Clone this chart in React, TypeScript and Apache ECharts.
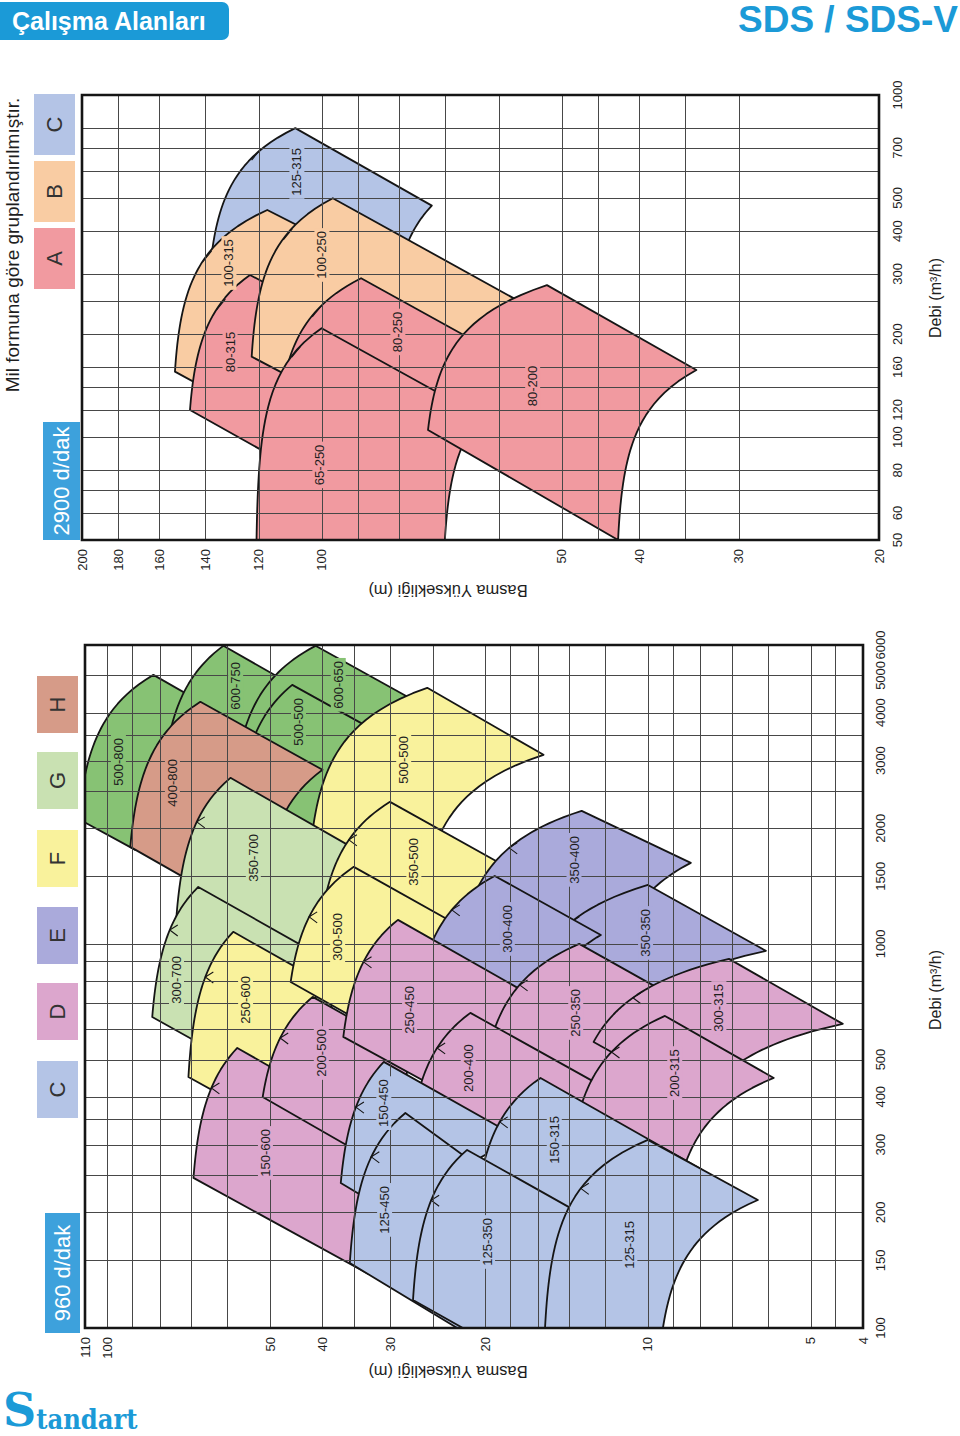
import React, { useEffect, useRef } from 'react';
import * as echarts from 'echarts';

type Pt = [number, number]; // [flow Q (m3/h), head H (m)]

// ---------------- 960 d/dak (draw order: bottom -> top) ----------------
const models960 = ['500-800', '600-750', '600-650', '500-500', '500-500', '400-800', '350-700', '300-700', '350-500', '250-600', '300-500', '150-600', '200-500', '350-400', '350-350', '300-400', '250-450', '250-350', '300-315', '200-400', '200-315', '150-450', '150-315', '125-450', '125-350', '125-315'];
const groups960 = ['K', 'K', 'K', 'K', 'F', 'H', 'G', 'G', 'F', 'F', 'F', 'D', 'D', 'E', 'E', 'E', 'D', 'D', 'D', 'D', 'D', 'C', 'C', 'C', 'C', 'C'];
// corner A: min flow / max impeller, B: max flow / max impeller, C: max flow / min impeller, D: min flow / min impeller
const cornerA960: Pt[] = [[2114, 113], [3015, 78.2], [3297, 56.7], [2518, 56.7], [1757, 42.1], [1789, 90.7], [1055, 74.9], [645.5, 82.6], [1212, 40], [450.4, 70.8], [796.2, 45.8], [245.9, 69.3], [399.6, 51.6], [1264, 21.3], [700, 17], [994, 25.2], [572.6, 36.6], [590, 19.3], [555.6, 12.6], [416.8, 26.5], [350, 13.5], [238.5, 37], [200, 20.8], [147.6, 35.6], [118.3, 27.2], [100, 15.5]];
const cornerB960: Pt[] = [[5016, 82.2], [5970, 61], [5970, 41.2], [4725, 45.5], [4642, 25.6], [4268, 67.3], [2706, 59.2], [1407, 67.9], [2343, 30], [1075, 58.5], [1587, 35], [536, 57.5], [727.8, 41.7], [2220, 13.26], [1424, 10], [1503, 19.2], [1155, 29], [1000, 13.4], [914, 7.08], [661.2, 21.3], [649.4, 9.3], [492.9, 30.8], [447.8, 15.8], [362.9, 28.1], [290.8, 21.6], [308.8, 10]];
const cornerC960: Pt[] = [[3718, 56.7], [4586, 43.9], [4069, 25.2], [3297, 28.7], [3106, 15.6], [2839, 40], [1675, 32.6], [897.9, 38.6], [1616, 18.7], [786.9, 39.5], [1108, 22.2], [327.9, 31.2], [523.2, 27.5], [1625, 8.33], [959, 6.05], [1055, 12.22], [710.6, 15.8], [710.6, 8.69], [619, 4.36], [406.9, 11.47], [447.8, 5.85], [310.5, 17.2], [259.4, 7.98], [261, 20.4], [194.7, 13], [215.4, 6.26]];
const cornerD960: Pt[] = [[1757, 88.8], [2414, 59.2], [2357, 37], [1866, 38.6], [1212, 26.3], [1148, 52.1], [626.6, 38.6], [464.2, 54.3], [965, 22.2], [326.1, 46.8], [549, 28.7], [138.3, 32.9], [248.8, 28.7], [1000, 11.3], [387.7, 12.22], [685.5, 15.8], [390, 22.2], [411.7, 12.22], [387.7, 7.98], [296, 17.2], [245.9, 8.69], [178.9, 26.3], [130.2, 12.22], [95.3, 21.3], [71.9, 14.5], [100, 9.38]];
const labelAt960: Pt[] = [[2978, 95.4], [4698, 57.9], [4726, 37.4], [3786, 44.3], [3015, 28.3], [2626, 75.8], [1675, 53.7], [806, 74.5], [1635, 27.1], [714.9, 55.5], [1043, 37.5], [285.6, 51], [520, 40.2], [1655, 13.7], [1068, 10.1], [1094, 18.2], [673, 27.6], [661, 13.6], [681, 7.39], [475, 21.5], [461, 8.92], [385, 30.8], [308.8, 14.9], [203, 30.7], [167.5, 19.8], [164.5, 10.8]];
const tickFlow960: (number | null)[] = [null, null, null, null, null, null, 2078, 1087, 1866, 820, 1176, 421.7, 569, 1778, 1141, 1226, 898, 782, 724, 536, 523, 376, 344, 279, 215, 231];

const headGrid960 = [4.5, 5, 6, 7, 8, 9, 10, 12, 14, 16, 18, 20, 25, 30, 35, 40, 50, 60, 70, 80, 90, 100];
const flowGrid960 = [150, 200, 250, 300, 350, 400, 500, 600, 700, 800, 900, 1000, 1500, 2000, 2500, 3000, 3500, 4000, 5000];
const headTicks960 = [4, 5, 10, 20, 30, 40, 50, 100, 110];
const flowTicks960 = [100, 150, 200, 300, 400, 500, 1000, 1500, 2000, 3000, 4000, 5000, 6000];

// ---------------- 2900 d/dak ----------------
const models2900 = ['125-315', '100-315', '80-315', '100-250', '80-250', '65-250', '80-200'];
const groups2900 = ['C', 'B', 'A', 'B', 'A', 'A', 'A'];
const cornerA2900: Pt[] = [[308, 138.2], [155.3, 152.9], [120, 146.4], [171.8, 122.5], [137.3, 112.2], [50, 120.8], [104.9, 73.6]];
const cornerB2900: Pt[] = [[800, 108], [461.2, 117.1], [297.8, 123.1], [499, 96.9], [291.2, 89.3], [208, 100.1], [278, 52.2]];
const cornerC2900: Pt[] = [[474.8, 72.8], [372, 97.7], [248.3, 106.5], [230.5, 53.2], [173.8, 59.8], [115.2, 63.3], [157, 33.9]];
const cornerD2900: Pt[] = [[250, 81.3], [113.7, 119.6], [80.6, 108], [101.4, 79.8], [88.6, 79.8], [50, 70.1], [50, 42.5]];
const labelAt2900: Pt[] = [[595.6, 107.5], [322.7, 130.8], [177.3, 130.4], [340.7, 100], [202.9, 80.3], [82.9, 100.6], [141, 54.4]];
const tickFlow2900: (number | null)[] = [667, 336, 243, 390, 232, 177, null];

const headGrid2900 = [30, 35, 40, 45, 50, 60, 70, 80, 90, 100, 120, 140, 160, 180];
const flowGrid2900 = [60, 70, 80, 100, 120, 140, 160, 200, 250, 300, 400, 500, 600, 700, 800];
const headTicks2900 = [20, 30, 40, 50, 100, 120, 140, 160, 180, 200];
const flowTicks2900 = [50, 60, 80, 100, 120, 160, 200, 300, 400, 500, 700, 1000];

const legend960 = ['H', 'G', 'F', 'E', 'D', 'C'];
const legend2900 = ['C', 'B', 'A'];

// ---------------- styles ----------------
const BLUE = '#1b9ad7';
const OUTLINE = '#151515';
const GRID_COLOR = '#474747';
const TEXT = '#1e1e1e';
const FONT = '"Liberation Sans", Arial, Helvetica, sans-serif';
const groupColors: Record<string, string> = {
  A: '#f19aa0',
  B: '#f9cca3',
  C: '#b4c4e6',
  D: '#dca6cd',
  E: '#aaaadb',
  F: '#f9f29c',
  G: '#c9e1b2',
  H: '#d69b88',
  K: '#87c274',
};

function qhCurve(api: any, p0: Pt, p1: Pt, steps = 30) {
  const [q0, h0] = p0;
  const [q1, h1] = p1;
  const b = (h0 - h1) / (Math.pow(q1, 3) - Math.pow(q0, 3));
  const a = h0 + b * Math.pow(q0, 3);
  const l0 = Math.log10(q0);
  const l1 = Math.log10(q1);
  const pts: number[][] = [];
  for (let i = 0; i <= steps; i++) {
    const q = Math.pow(10, l0 + ((l1 - l0) * i) / steps);
    pts.push(api.coord([a - b * Math.pow(q, 3), q]));
  }
  return { pts, a, b };
}

interface ChartCfg {
  axis: number;
  hMin: number; hMax: number; qMin: number; qMax: number;
  headGrid: number[]; flowGrid: number[]; headTicks: number[]; flowTicks: number[];
  names: string[]; groups: string[]; A: Pt[]; B: Pt[]; C: Pt[]; D: Pt[]; labels: Pt[]; ticks: (number | null)[];
  tickKind: 'chevron' | 'slash';
  headGap: number; flowGap: number; flowFont: number;
}

function chartSeries(c: ChartCfg): any[] {
  const base = { type: 'custom', xAxisIndex: c.axis, yAxisIndex: c.axis, silent: true, animation: false };
  const areas = {
    ...base,
    z: 2,
    clip: true,
    data: c.labels.map(([q, h]) => [h, q]),
    renderItem: (params: any, api: any) => {
      const i = params.dataIndex;
      const color = groupColors[c.groups[i]];
      const top = qhCurve(api, c.A[i], c.B[i]);
      const bottom = qhCurve(api, c.C[i], c.D[i]);
      const children: any[] = [
        {
          type: 'polygon',
          shape: { points: top.pts.concat(bottom.pts) },
          style: { fill: color, stroke: OUTLINE, lineWidth: 1.8, lineJoin: 'round' },
        },
      ];
      const tq = c.ticks[i];
      if (tq) {
        const p = api.coord([top.a - top.b * Math.pow(tq, 3), tq]);
        if (c.tickKind === 'chevron') {
          children.push({
            type: 'polyline',
            shape: { points: [[p[0] + 8, p[1] - 5], [p[0], p[1]], [p[0] + 8, p[1] + 6]] },
            style: { fill: 'none', stroke: OUTLINE, lineWidth: 1.1 },
          });
        } else {
          children.push({
            type: 'line',
            shape: { x1: p[0] - 3, y1: p[1] + 5, x2: p[0] + 6, y2: p[1] - 6 },
            style: { fill: 'none', stroke: OUTLINE, lineWidth: 1.1 },
          });
        }
      }
      return { type: 'group', children };
    },
  };
  const headLines = {
    ...base,
    z: 3,
    data: c.headGrid.map((h) => [h, c.qMin]),
    renderItem: (params: any, api: any) => {
      const h = api.value(0);
      const p1 = api.coord([h, c.qMin]);
      const p2 = api.coord([h, c.qMax]);
      const x = Math.round(p1[0]) + 0.5;
      return { type: 'line', shape: { x1: x, y1: p1[1], x2: x, y2: p2[1] }, style: { stroke: GRID_COLOR, lineWidth: 1 } };
    },
  };
  const flowLines = {
    ...base,
    z: 3,
    data: c.flowGrid.map((q) => [c.hMin, q]),
    renderItem: (params: any, api: any) => {
      const q = api.value(1);
      const p1 = api.coord([c.hMin, q]);
      const p2 = api.coord([c.hMax, q]);
      const y = Math.round(p1[1]) + 0.5;
      return { type: 'line', shape: { x1: p1[0], y1: y, x2: p2[0], y2: y }, style: { stroke: GRID_COLOR, lineWidth: 1 } };
    },
  };
  const labels = {
    ...base,
    z: 4,
    data: c.labels.map(([q, h]) => [h, q]),
    renderItem: (params: any, api: any) => {
      const i = params.dataIndex;
      const p = api.coord([api.value(0), api.value(1)]);
      return {
        type: 'text',
        x: p[0],
        y: p[1],
        rotation: Math.PI / 2,
        style: {
          text: c.names[i],
          fill: TEXT,
          font: `13px ${FONT}`,
          align: 'center', textAlign: 'center',
          verticalAlign: 'middle', textVerticalAlign: 'middle',
          backgroundColor: groupColors[c.groups[i]],
          padding: [1, 3],
        },
      };
    },
  };
  const frame = {
    ...base,
    z: 5,
    data: [[c.hMin, c.qMin]],
    renderItem: (params: any) => {
      const r = params.coordSys;
      return {
        type: 'rect',
        shape: { x: r.x, y: r.y, width: r.width, height: r.height },
        style: { fill: 'none', stroke: OUTLINE, lineWidth: 2.6 },
      };
    },
  };
  const headTickLabels = {
    ...base,
    z: 5,
    data: c.headTicks.map((h) => [h, c.qMin]),
    renderItem: (params: any, api: any) => {
      const h = api.value(0);
      const p = api.coord([h, c.qMin]);
      return {
        type: 'text',
        x: p[0],
        y: p[1] + c.headGap,
        rotation: Math.PI / 2,
        style: {
          text: String(h), fill: TEXT, font: `13px ${FONT}`,
          align: 'right', textAlign: 'right', verticalAlign: 'middle', textVerticalAlign: 'middle',
        },
      };
    },
  };
  const flowTickLabels = {
    ...base,
    z: 5,
    data: c.flowTicks.map((q) => [c.hMin, q]),
    renderItem: (params: any, api: any) => {
      const q = api.value(1);
      const p = api.coord([c.hMin, q]);
      return {
        type: 'text',
        x: p[0] + c.flowGap,
        y: p[1],
        rotation: Math.PI / 2,
        style: {
          text: String(q), fill: TEXT, font: `${c.flowFont}px ${FONT}`,
          align: 'center', textAlign: 'center', verticalAlign: 'middle', textVerticalAlign: 'middle',
        },
      };
    },
  };
  return [areas, headLines, flowLines, labels, frame, headTickLabels, flowTickLabels];
}

function txt(x: number, y: number, text: string, font: string, fill: string, rotation = 0, align = 'center') {
  return {
    type: 'text', x, y, rotation, silent: true,
    style: { text, font, fill, align, textAlign: align, verticalAlign: 'middle', textVerticalAlign: 'middle' },
  };
}

function buildOption() {
  const cfg2900: ChartCfg = {
    axis: 0, hMin: 20, hMax: 200, qMin: 50, qMax: 1000,
    headGrid: headGrid2900, flowGrid: flowGrid2900, headTicks: headTicks2900, flowTicks: flowTicks2900,
    names: models2900, groups: groups2900, A: cornerA2900, B: cornerB2900, C: cornerC2900, D: cornerD2900,
    labels: labelAt2900, ticks: tickFlow2900, tickKind: 'slash', headGap: 9, flowGap: 18, flowFont: 13,
  };
  const cfg960: ChartCfg = {
    axis: 1, hMin: 4, hMax: 110, qMin: 100, qMax: 6000,
    headGrid: headGrid960, flowGrid: flowGrid960, headTicks: headTicks960, flowTicks: flowTicks960,
    names: models960, groups: groups960, A: cornerA960, B: cornerB960, C: cornerC960, D: cornerD960,
    labels: labelAt960, ticks: tickFlow960, tickKind: 'chevron', headGap: 9, flowGap: 17, flowFont: 13,
  };

  const legendTop960 = [676, 752, 830, 907, 983, 1061];
  const legendTop2900 = [94, 161, 228];
  const graphic: any[] = [
    { type: 'rect', silent: true, shape: { x: 0, y: 2, width: 229, height: 38, r: [0, 7, 7, 0] }, style: { fill: BLUE } },
    txt(12, 21, 'Çalışma Alanları', `bold 25px ${FONT}`, '#ffffff', 0, 'left'),
    txt(958, 19, 'SDS / SDS-V', `bold 37px ${FONT}`, BLUE, 0, 'right'),
    txt(12, 245, 'Mil formuna göre gruplandırılmıştır.', `19px ${FONT}`, TEXT, Math.PI / 2),
    // speed tags
    { type: 'rect', silent: true, shape: { x: 43, y: 422, width: 37, height: 118 }, style: { fill: '#3da1dc' } },
    txt(61.5, 481, '2900 d/dak', `22px ${FONT}`, '#ffffff', Math.PI / 2),
    { type: 'rect', silent: true, shape: { x: 45, y: 1213, width: 35, height: 120 }, style: { fill: '#3da1dc' } },
    txt(62.5, 1273, '960 d/dak', `22px ${FONT}`, '#ffffff', Math.PI / 2),
    // axis titles
    txt(935, 298, 'Debi (m³/h)', `16px ${FONT}`, TEXT, Math.PI / 2),
    txt(935, 990, 'Debi (m³/h)', `16px ${FONT}`, TEXT, Math.PI / 2),
    txt(448, 591, 'Basma Yüksekliği (m)', `16.5px ${FONT}`, TEXT, Math.PI),
    txt(448, 1372, 'Basma Yüksekliği (m)', `16.5px ${FONT}`, TEXT, Math.PI),
    // logo
    {
      type: 'text', x: 3, y: 1410, silent: true,
      style: {
        text: '{s|S}{t|tandart}',
        align: 'left', textAlign: 'left', verticalAlign: 'middle', textVerticalAlign: 'middle',
        rich: {
          s: { font: `bold 46px "DejaVu Serif", serif`, fill: BLUE, verticalAlign: 'bottom' },
          t: { font: `bold 27px "DejaVu Serif Condensed", "DejaVu Serif", serif`, fill: BLUE, verticalAlign: 'bottom' },
        },
      },
    },
  ];
  legend960.forEach((g, i) => {
    graphic.push({ type: 'rect', silent: true, shape: { x: 37, y: legendTop960[i], width: 41, height: 57 }, style: { fill: groupColors[g] } });
    graphic.push(txt(57.5, legendTop960[i] + 28.5, g, `22px ${FONT}`, '#333333', Math.PI / 2));
  });
  legend2900.forEach((g, i) => {
    graphic.push({ type: 'rect', silent: true, shape: { x: 34, y: legendTop2900[i], width: 41, height: 61 }, style: { fill: groupColors[g] } });
    graphic.push(txt(54.5, legendTop2900[i] + 30.5, g, `22px ${FONT}`, '#333333', Math.PI / 2));
  });

  return {
    animation: false,
    backgroundColor: '#ffffff',
    grid: [
      { left: 82, top: 95, width: 797, height: 445, show: false },
      { left: 85, top: 645, width: 778, height: 683, show: false },
    ],
    xAxis: [
      { type: 'log', gridIndex: 0, min: 20, max: 200, inverse: true, show: false },
      { type: 'log', gridIndex: 1, min: 4, max: 110, inverse: true, show: false },
    ],
    yAxis: [
      { type: 'log', gridIndex: 0, min: 50, max: 1000, show: false },
      { type: 'log', gridIndex: 1, min: 100, max: 6000, show: false },
    ],
    series: [...chartSeries(cfg2900), ...chartSeries(cfg960)],
    graphic,
  };
}

export default function App() {
  const ref = useRef<HTMLDivElement>(null);
  useEffect(() => {
    if (!ref.current) return;
    const chart = echarts.init(ref.current, null, { renderer: 'svg' });
    chart.setOption(buildOption() as any);
    return () => chart.dispose();
  }, []);
  return (
    <div
      ref={ref}
      style={{ position: 'absolute', left: 0, top: 0, width: 960, height: 1436, background: '#ffffff' }}
    />
  );
}
